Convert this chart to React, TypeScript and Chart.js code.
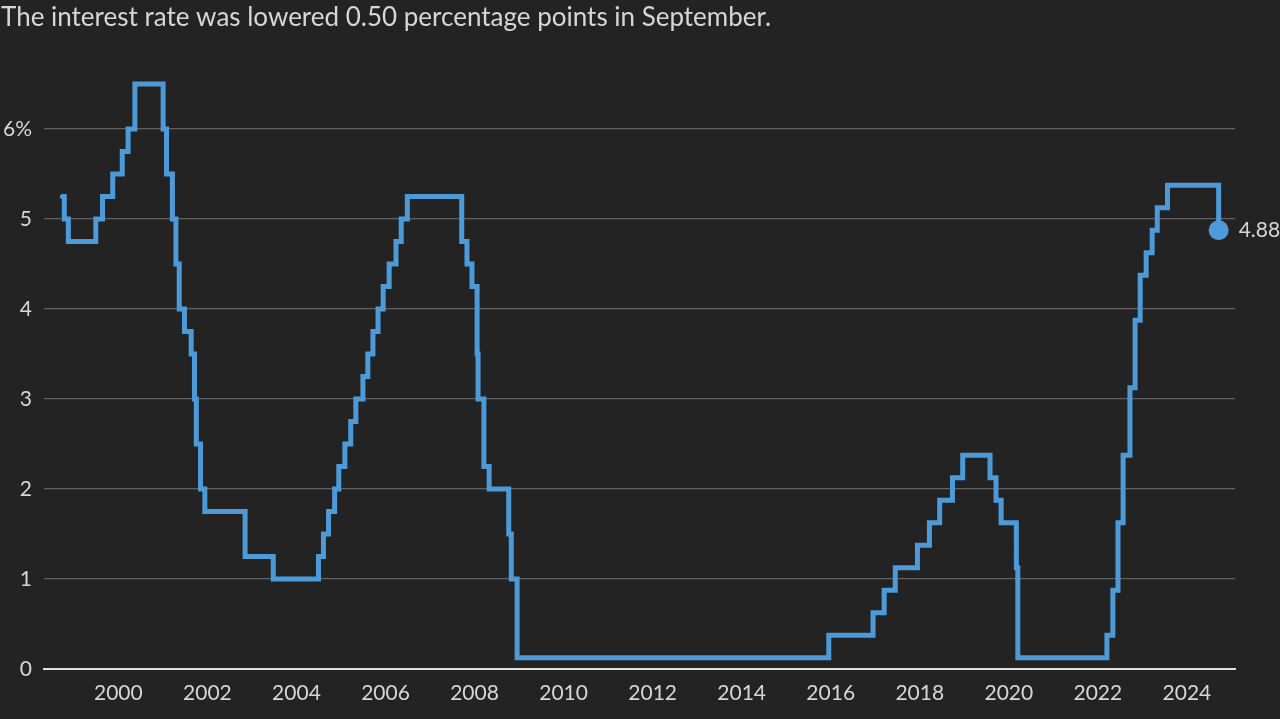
import React, { useEffect, useRef } from "react";
import { Chart, registerables } from "chart.js";

Chart.register(...registerables);

const TITLE = "The interest rate was lowered 0.50 percentage points in September.";

// Fed funds target (midpoint of range after Dec 2008), effective dates
const changeDates = [
  "1998-09-29", "1998-10-15", "1998-11-17", "1999-06-30", "1999-08-24", "1999-11-16",
  "2000-02-02", "2000-03-21", "2000-05-16", "2001-01-03", "2001-01-31", "2001-03-20",
  "2001-04-18", "2001-05-15", "2001-06-27", "2001-08-21", "2001-09-17", "2001-10-02",
  "2001-11-06", "2001-12-11", "2002-11-06", "2003-06-25", "2004-06-30", "2004-08-10",
  "2004-09-21", "2004-11-10", "2004-12-14", "2005-02-02", "2005-03-22", "2005-05-03",
  "2005-06-30", "2005-08-09", "2005-09-20", "2005-11-01", "2005-12-13", "2006-01-31",
  "2006-03-28", "2006-05-10", "2006-06-29", "2007-09-18", "2007-10-31", "2007-12-11",
  "2008-01-22", "2008-01-30", "2008-03-18", "2008-04-30", "2008-10-08", "2008-10-29",
  "2008-12-16", "2015-12-16", "2016-12-14", "2017-03-15", "2017-06-14", "2017-12-13",
  "2018-03-21", "2018-06-13", "2018-09-26", "2018-12-19", "2019-07-31", "2019-09-18",
  "2019-10-30", "2020-03-03", "2020-03-15", "2022-03-16", "2022-05-04", "2022-06-15",
  "2022-07-27", "2022-09-21", "2022-11-02", "2022-12-14", "2023-02-01", "2023-03-22",
  "2023-05-03", "2023-07-26", "2024-09-18",
];

const rates = [
  5.25, 5.0, 4.75, 5.0, 5.25, 5.5,
  5.75, 6.0, 6.5, 6.0, 5.5, 5.0,
  4.5, 4.0, 3.75, 3.5, 3.0, 2.5,
  2.0, 1.75, 1.25, 1.0, 1.25, 1.5,
  1.75, 2.0, 2.25, 2.5, 2.75, 3.0,
  3.25, 3.5, 3.75, 4.0, 4.25, 4.5,
  4.75, 5.0, 5.25, 4.75, 4.5, 4.25,
  3.5, 3.0, 2.25, 2.0, 1.5, 1.0,
  0.125, 0.375, 0.625, 0.875, 1.125, 1.375,
  1.625, 1.875, 2.125, 2.375, 2.125, 1.875,
  1.625, 1.125, 0.125, 0.375, 0.875, 1.625,
  2.375, 3.125, 3.875, 4.375, 4.625, 4.875,
  5.125, 5.375, 4.875,
];

const xTickYears = [2000, 2002, 2004, 2006, 2008, 2010, 2012, 2014, 2016, 2018, 2020, 2022, 2024];
const yTickValues = [0, 1, 2, 3, 4, 5, 6];
const xRange = [1998.33, 2025.08];
const yRange = [0, 7];
const lastLabel = "4.88";

const LINE_COLOR = "#4d9ad8";
const TEXT_COLOR = "#d6d6d6";
const BG = "#232323";
const FONT = "Lato, 'Open Sans', sans-serif";

function toYear(s: string): number {
  const [y, m, d] = s.split("-").map(Number);
  const start = Date.UTC(y, 0, 1);
  const end = Date.UTC(y + 1, 0, 1);
  return y + (Date.UTC(y, m - 1, d) - start) / (end - start);
}

export default function App() {
  const ref = useRef<HTMLCanvasElement | null>(null);

  useEffect(() => {
    document.body.style.margin = "0";
    document.body.style.background = BG;
    const canvas = ref.current;
    if (!canvas) return;
    const points = changeDates.map((d, i) => ({ x: toYear(d), y: rates[i] }));
    const lastIdx = points.length - 1;

    const decor = {
      id: "decor",
      beforeDraw(chart: any) {
        const c = chart.ctx;
        c.save();
        c.fillStyle = BG;
        c.fillRect(0, 0, chart.width, chart.height);
        c.restore();
      },
      afterDraw(chart: any) {
        const c = chart.ctx;
        c.save();
        c.fillStyle = TEXT_COLOR;
        c.font = `26px ${FONT}`;
        c.textBaseline = "middle";
        c.textAlign = "left";
        c.fillText(TITLE, 1, 18);
        const meta = chart.getDatasetMeta(0);
        const p = meta.data[lastIdx];
        c.font = `21px ${FONT}`;
        c.fillText(lastLabel, p.x + 20, p.y);
        c.restore();
      },
    };

    const chart = new Chart(canvas, {
      type: "line",
      data: {
        datasets: [
          {
            data: points,
            borderColor: LINE_COLOR,
            borderWidth: 5,
            stepped: true,
            fill: false,
            pointRadius: (ctx: any) => (ctx.dataIndex === lastIdx ? 10 : 0),
            pointBackgroundColor: LINE_COLOR,
            pointBorderWidth: 0,
            pointHoverRadius: 0,
            borderCapStyle: "round",
            borderJoinStyle: "miter",
          } as any,
        ],
      },
      options: {
        responsive: false,
        animation: false,
        devicePixelRatio: 1,
        events: [],
        layout: { padding: { left: 0, right: 45, top: 39, bottom: 0 } },
        plugins: { legend: { display: false }, tooltip: { enabled: false }, title: { display: false } },
        scales: {
          x: {
            type: "linear",
            min: xRange[0],
            max: xRange[1],
            grid: { display: false, drawTicks: false },
            border: { display: true, color: "#e0e0e0", width: 2 },
            afterBuildTicks: (axis: any) => {
              axis.ticks = xTickYears.map((v) => ({ value: v }));
            },
            afterFit: (axis: any) => {
              axis.height = 50;
            },
            ticks: {
              color: TEXT_COLOR,
              font: { family: FONT, size: 21 },
              padding: 12,
              maxRotation: 0,
              autoSkip: false,
              callback: (v: any) => String(v),
            },
          },
          y: {
            type: "linear",
            min: yRange[0],
            max: yRange[1],
            grid: { color: "#626262", lineWidth: 1.2, drawTicks: false },
            border: { display: false },
            afterBuildTicks: (axis: any) => {
              axis.ticks = yTickValues.map((v) => ({ value: v }));
            },
            afterFit: (axis: any) => {
              axis.width = 44;
            },
            ticks: {
              color: TEXT_COLOR,
              font: { family: FONT, size: 21 },
              padding: 12,
              callback: (v: any) => (v === 6 ? "6%" : String(v)),
            },
          },
        },
      } as any,
      plugins: [decor],
    });
    return () => chart.destroy();
  }, []);

  return (
    <div style={{ position: "fixed", left: 0, top: 0, width: 1280, height: 719, background: BG }}>
      <canvas ref={ref} width={1280} height={719} style={{ display: "block", width: 1280, height: 719 }} />
    </div>
  );
}
